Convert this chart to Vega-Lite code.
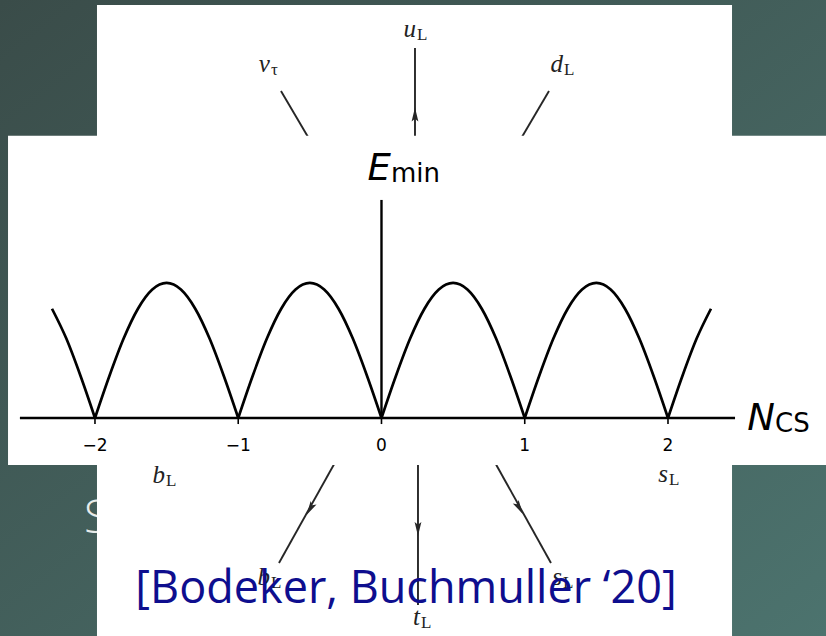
{
  "$schema": "https://vega.github.io/schema/vega-lite/v6.json",
  "width": 826,
  "height": 636,
  "autosize": {"type": "fit", "contains": "padding"},
  "padding": 0,
  "background": "#415a56",
  "config": {"view": {"stroke": null}},
  "datasets": {
    "panels": [
      {"panel": "slide", "x": -2.663, "x2": 3.103, "y": -1.615, "y2": 3.096},
      {"panel": "diagram", "x": -1.986, "x2": 2.447, "y": -1.615, "y2": 3.059},
      {"panel": "plot", "x": -2.607, "x2": 3.103, "y": -0.348, "y2": 2.091}
    ],
    "heading": [{"text": "S", "x": -2.077, "y": -0.852}],
    "legs": [
      {"leg": "nu_tau", "x": -0.7016, "y": 2.422, "x2": -0.4921, "y2": 2.044},
      {"leg": "u_L", "x": 0.2339, "y": 2.741, "x2": 0.2339, "y2": 2.044},
      {"leg": "d_L", "x": 1.1693, "y": 2.422, "x2": 0.9599, "y2": 2.044},
      {"leg": "b_L", "x": -0.3106, "y": -0.304, "x2": -0.7155, "y2": -1.074},
      {"leg": "t_L", "x": 0.2548, "y": -0.304, "x2": 0.2548, "y2": -1.385},
      {"leg": "s_L", "x": 0.7784, "y": -0.304, "x2": 1.1832, "y2": -1.074}
    ],
    "arrows": [
      {"leg": "u_L", "x": 0.2339, "y": 2.24, "heading": 0},
      {"leg": "b_L", "x": -0.495, "y": -0.667, "heading": 209.9},
      {"leg": "t_L", "x": 0.2548, "y": -0.815, "heading": 180},
      {"leg": "s_L", "x": 0.958, "y": -0.659, "heading": 150.1}
    ],
    "quarks": [
      {"base": "u", "sub": "L", "x": 0.2408, "y": 2.822},
      {"base": "ν", "sub": "τ", "x": -0.7784, "y": 2.563},
      {"base": "d", "sub": "L", "x": 1.267, "y": 2.563},
      {"base": "b", "sub": "L", "x": -1.511, "y": -0.4815},
      {"base": "s", "sub": "L", "x": 2.0, "y": -0.474},
      {"base": "b", "sub": "L", "x": -0.778, "y": -1.237},
      {"base": "s", "sub": "L", "x": 1.26, "y": -1.237},
      {"base": "t", "sub": "L", "x": 0.2688, "y": -1.533}
    ],
    "curve": [
      {"arch": "a", "x": -2.3, "y": 0.809},
      {"arch": "a", "x": -2.2, "y": 0.588},
      {"arch": "a", "x": -2.1, "y": 0.309},
      {"arch": "a", "x": -2.0, "y": 0},
      {"arch": "b", "x": -2.0, "y": 0},
      {"arch": "b", "x": -1.9, "y": 0.309},
      {"arch": "b", "x": -1.8, "y": 0.588},
      {"arch": "b", "x": -1.7, "y": 0.809},
      {"arch": "b", "x": -1.6, "y": 0.951},
      {"arch": "b", "x": -1.5, "y": 1.0},
      {"arch": "b", "x": -1.4, "y": 0.951},
      {"arch": "b", "x": -1.3, "y": 0.809},
      {"arch": "b", "x": -1.2, "y": 0.588},
      {"arch": "b", "x": -1.1, "y": 0.309},
      {"arch": "b", "x": -1.0, "y": 0},
      {"arch": "c", "x": -1.0, "y": 0},
      {"arch": "c", "x": -0.9, "y": 0.309},
      {"arch": "c", "x": -0.8, "y": 0.588},
      {"arch": "c", "x": -0.7, "y": 0.809},
      {"arch": "c", "x": -0.6, "y": 0.951},
      {"arch": "c", "x": -0.5, "y": 1.0},
      {"arch": "c", "x": -0.4, "y": 0.951},
      {"arch": "c", "x": -0.3, "y": 0.809},
      {"arch": "c", "x": -0.2, "y": 0.588},
      {"arch": "c", "x": -0.1, "y": 0.309},
      {"arch": "c", "x": 0.0, "y": 0},
      {"arch": "d", "x": 0.0, "y": 0},
      {"arch": "d", "x": 0.1, "y": 0.309},
      {"arch": "d", "x": 0.2, "y": 0.588},
      {"arch": "d", "x": 0.3, "y": 0.809},
      {"arch": "d", "x": 0.4, "y": 0.951},
      {"arch": "d", "x": 0.5, "y": 1.0},
      {"arch": "d", "x": 0.6, "y": 0.951},
      {"arch": "d", "x": 0.7, "y": 0.809},
      {"arch": "d", "x": 0.8, "y": 0.588},
      {"arch": "d", "x": 0.9, "y": 0.309},
      {"arch": "d", "x": 1.0, "y": 0},
      {"arch": "e", "x": 1.0, "y": 0},
      {"arch": "e", "x": 1.1, "y": 0.309},
      {"arch": "e", "x": 1.2, "y": 0.588},
      {"arch": "e", "x": 1.3, "y": 0.809},
      {"arch": "e", "x": 1.4, "y": 0.951},
      {"arch": "e", "x": 1.5, "y": 1.0},
      {"arch": "e", "x": 1.6, "y": 0.951},
      {"arch": "e", "x": 1.7, "y": 0.809},
      {"arch": "e", "x": 1.8, "y": 0.588},
      {"arch": "e", "x": 1.9, "y": 0.309},
      {"arch": "e", "x": 2.0, "y": 0},
      {"arch": "f", "x": 2.0, "y": 0},
      {"arch": "f", "x": 2.1, "y": 0.309},
      {"arch": "f", "x": 2.2, "y": 0.588},
      {"arch": "f", "x": 2.3, "y": 0.809}
    ],
    "axes": [
      {"axis": "N", "x": -2.524, "x2": 2.468, "y": 0, "y2": 0},
      {"axis": "E", "x": 0, "x2": 0, "y": 0, "y2": 1.615}
    ],
    "ticks": [
      {"x": -2, "x2": -2, "y": 0, "y2": -0.045},
      {"x": -1, "x2": -1, "y": 0, "y2": -0.045},
      {"x": 0, "x2": 0, "y": 0, "y2": -0.045},
      {"x": 1, "x2": 1, "y": 0, "y2": -0.045},
      {"x": 2, "x2": 2, "y": 0, "y2": -0.045}
    ],
    "tickLabels": [
      {"x": -2, "y": -0.244, "label": "−2"},
      {"x": -1, "y": -0.244, "label": "−1"},
      {"x": 0, "y": -0.244, "label": "0"},
      {"x": 1, "y": -0.244, "label": "1"},
      {"x": 2, "y": -0.244, "label": "2"}
    ],
    "axisTitles": [
      {"base": "E", "sub": "min", "x": 0.0663, "y": 1.763},
      {"base": "N", "sub": "CS", "x": 2.747, "y": -0.0889}
    ],
    "cite": [{"text": "[Bodeker, Buchmuller ‘20]", "x": 0.171, "y": -1.37}]
  },
  "encoding": {
    "x": {"field": "x", "type": "quantitative", "axis": null,
          "scale": {"domain": [-2.663, 3.103], "nice": false, "zero": false}},
    "y": {"field": "y", "type": "quantitative", "axis": null,
          "scale": {"domain": [-1.615, 3.096], "nice": false, "zero": false}}
  },
  "layer": [
    {
      "data": {"name": "panels"},
      "transform": [{"filter": "datum.panel === 'slide'"}],
      "mark": {"type": "rect", "clip": true, "fill": {"gradient": "linear", "x1": 0, "y1": 0, "x2": 1, "y2": 1,
        "stops": [{"offset": 0, "color": "#3a4c49"}, {"offset": 1, "color": "#4c736e"}]}},
      "encoding": {"x2": {"field": "x2"}, "y2": {"field": "y2"}}
    },
    {
      "data": {"name": "heading"},
      "mark": {"type": "text", "font": "Open Sans", "fontSize": 46, "fontWeight": 300,
               "color": "#e8ecea", "align": "left", "baseline": "alphabetic"},
      "encoding": {"text": {"field": "text"}}
    },
    {
      "data": {"name": "panels"},
      "transform": [{"filter": "datum.panel === 'diagram'"}],
      "mark": {"type": "rect", "clip": true, "fill": "#ffffff"},
      "encoding": {"x2": {"field": "x2"}, "y2": {"field": "y2"}}
    },
    {
      "data": {"name": "legs"},
      "mark": {"type": "rule", "color": "#262626", "strokeWidth": 1.9},
      "encoding": {"x2": {"field": "x2"}, "y2": {"field": "y2"}}
    },
    {
      "data": {"name": "arrows"},
      "mark": {"type": "point", "shape": "M0,-1L0.42,0.75L0,0.4L-0.42,0.75Z", "filled": true,
               "color": "#262626", "opacity": 1, "size": 260},
      "encoding": {"angle": {"field": "heading", "type": "quantitative", "scale": null}}
    },
    {
      "data": {"name": "quarks"},
      "mark": {"type": "text", "font": "Liberation Serif", "fontStyle": "italic", "fontSize": 25,
               "color": "#222222", "align": "right", "baseline": "alphabetic"},
      "encoding": {"text": {"field": "base"}}
    },
    {
      "data": {"name": "quarks"},
      "mark": {"type": "text", "font": "Liberation Serif", "fontSize": 17, "dx": 1, "dy": 3,
               "color": "#222222", "align": "left", "baseline": "alphabetic"},
      "encoding": {"text": {"field": "sub"}}
    },
    {
      "data": {"name": "panels"},
      "transform": [{"filter": "datum.panel === 'plot'"}],
      "mark": {"type": "rect", "clip": true, "fill": "#ffffff"},
      "encoding": {"x2": {"field": "x2"}, "y2": {"field": "y2"}}
    },
    {
      "data": {"name": "curve"},
      "mark": {"type": "line", "color": "#000000", "strokeWidth": 2.7, "interpolate": "monotone"},
      "encoding": {"detail": {"field": "arch"}}
    },
    {
      "data": {"name": "axes"},
      "mark": {"type": "rule", "color": "#000000", "strokeWidth": 2.4},
      "encoding": {"x2": {"field": "x2"}, "y2": {"field": "y2"}}
    },
    {
      "data": {"name": "ticks"},
      "mark": {"type": "rule", "color": "#000000", "strokeWidth": 1.6},
      "encoding": {"x2": {"field": "x2"}, "y2": {"field": "y2"}}
    },
    {
      "data": {"name": "tickLabels"},
      "mark": {"type": "text", "font": "DejaVu Sans", "fontSize": 17, "color": "#000000",
               "align": "center", "baseline": "alphabetic"},
      "encoding": {"text": {"field": "label"}}
    },
    {
      "data": {"name": "axisTitles"},
      "mark": {"type": "text", "font": "DejaVu Sans", "fontStyle": "italic", "fontSize": 37,
               "color": "#000000", "align": "right", "baseline": "alphabetic"},
      "encoding": {"text": {"field": "base"}}
    },
    {
      "data": {"name": "axisTitles"},
      "mark": {"type": "text", "font": "DejaVu Sans", "fontSize": 26, "dy": 2,
               "color": "#000000", "align": "left", "baseline": "alphabetic"},
      "encoding": {"text": {"field": "sub"}}
    },
    {
      "data": {"name": "cite"},
      "mark": {"type": "text", "font": "Open Sans", "fontSize": 45, "color": "#0e0e8e",
               "align": "center", "baseline": "alphabetic"},
      "encoding": {"text": {"field": "text"}}
    }
  ]
}
